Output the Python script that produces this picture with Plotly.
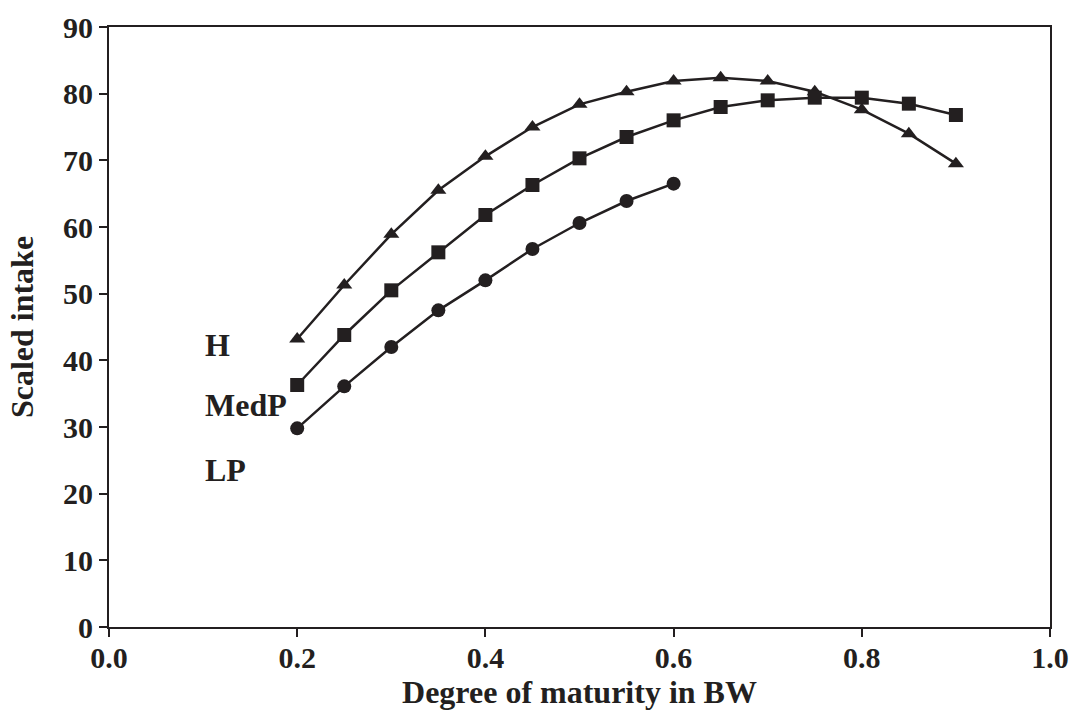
import plotly.graph_objects as go

x_h = [0.2, 0.25, 0.3, 0.35, 0.4, 0.45, 0.5, 0.55, 0.6, 0.65, 0.7, 0.75, 0.8, 0.85, 0.9]
y_h = [43.2, 51.3, 58.9, 65.5, 70.6, 75.0, 78.4, 80.3, 81.9, 82.4, 81.9, 80.3, 77.6, 74.0, 69.5]

x_med = [0.2, 0.25, 0.3, 0.35, 0.4, 0.45, 0.5, 0.55, 0.6, 0.65, 0.7, 0.75, 0.8, 0.85, 0.9]
y_med = [36.3, 43.8, 50.5, 56.2, 61.8, 66.3, 70.3, 73.5, 76.0, 78.0, 79.0, 79.4, 79.4, 78.5, 76.8]

x_lp = [0.2, 0.25, 0.3, 0.35, 0.4, 0.45, 0.5, 0.55, 0.6]
y_lp = [29.8, 36.1, 42.0, 47.5, 52.0, 56.7, 60.6, 63.9, 66.5]

labels = ["H", "MedP", "LP"]
label_x = [0.1, 0.1, 0.1]
label_y = [42.3, 33.3, 23.5]

ink = "#231f20"
font_family = "Liberation Serif, Times New Roman, serif"

fig = go.Figure()
fig.add_trace(go.Scatter(x=x_h, y=y_h, mode="lines+markers", name="H",
                         line=dict(color=ink, width=2.5),
                         marker=dict(symbol="triangle-up", size=14, color=ink)))
fig.add_trace(go.Scatter(x=x_med, y=y_med, mode="lines+markers", name="MedP",
                         line=dict(color=ink, width=2.5),
                         marker=dict(symbol="square", size=14, color=ink)))
fig.add_trace(go.Scatter(x=x_lp, y=y_lp, mode="lines+markers", name="LP",
                         line=dict(color=ink, width=2.5),
                         marker=dict(symbol="circle", size=14, color=ink)))

for t, lx, ly in zip(labels, label_x, label_y):
    fig.add_annotation(x=lx, y=ly, text="<b>%s</b>" % t, showarrow=False,
                       xanchor="left", yanchor="middle",
                       font=dict(family=font_family, size=32, color=ink))

fig.update_layout(
    width=1070, height=711,
    margin=dict(l=109, r=20, t=27, b=84),
    paper_bgcolor="white", plot_bgcolor="white",
    showlegend=False,
    font=dict(family=font_family, size=30, color=ink),
)
fig.update_xaxes(
    range=[0, 1.0], tickvals=[0, 0.2, 0.4, 0.6, 0.8, 1.0],
    ticktext=["<b>0.0</b>", "<b>0.2</b>", "<b>0.4</b>", "<b>0.6</b>", "<b>0.8</b>", "<b>1.0</b>"],
    tickfont=dict(family=font_family, size=30, color=ink),
    ticklabelstandoff=-5,
    showgrid=False, zeroline=False, showline=True, mirror=True, automargin=False,
    linecolor=ink, linewidth=2, ticks="outside", ticklen=8, tickwidth=2, tickcolor=ink,
    title=dict(text="<b>Degree of maturity in BW</b>", standoff=6,
               font=dict(family=font_family, size=32, color=ink)),
)
fig.update_yaxes(
    range=[0, 90], tickvals=list(range(0, 91, 10)),
    ticktext=["<b>%d</b>" % v for v in range(0, 91, 10)],
    tickfont=dict(family=font_family, size=30, color=ink),
    showgrid=False, zeroline=False, showline=True, mirror=True, automargin=False,
    linecolor=ink, linewidth=2, ticks="outside", ticklen=8, tickwidth=2, tickcolor=ink,
    title=dict(text="<b>Scaled intake</b>", standoff=20,
               font=dict(family=font_family, size=32, color=ink)),
)

fig.write_html("out.html")
